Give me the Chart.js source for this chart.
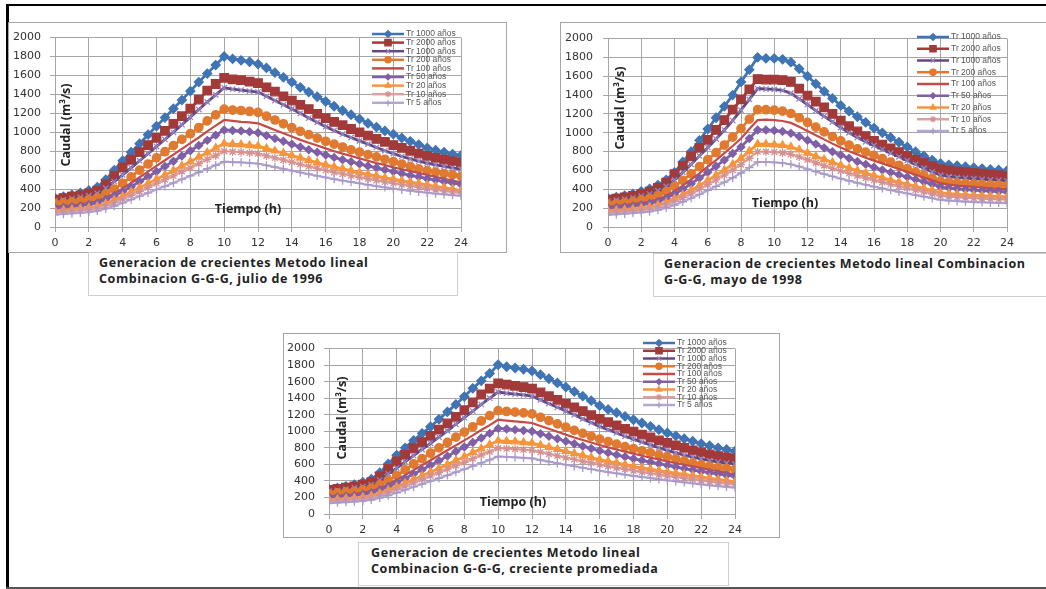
<!DOCTYPE html>
<html>
<head>
<meta charset="utf-8">
<script src="https://cdn.jsdelivr.net/npm/chart.js@4.4.0/dist/chart.umd.min.js"></script>
<style>
  body { margin: 0; width: 1046px; height: 589px; position: relative; overflow: hidden; background: #fff; font-family: "Open Sans", sans-serif; }
  .ln { position: absolute; background: #000; }
  .frame { position: absolute; border: 1px solid #a6a6a6; box-sizing: border-box; }
  canvas { position: absolute; }
  .cap { position: absolute; border: 1.5px solid #cfcfcf; box-sizing: border-box; background: #fff;
         font-weight: 700; font-size: 12.5px; letter-spacing: 0.6px; line-height: 15.5px; color: #222;
         padding: 2px 0 0 10px; white-space: nowrap; overflow: hidden; }
</style>
</head>
<body>
<div class="ln" style="left:6px;top:4px;width:1040px;height:2px"></div>
<div class="ln" style="left:6px;top:4px;width:3px;height:585px"></div>
<div class="ln" style="left:6px;top:587px;width:1040px;height:2px;background:#555"></div>

<div class="frame" style="left:8px;top:22px;width:499px;height:231px"></div>
<div class="frame" style="left:560px;top:22px;width:520px;height:231px"></div>
<div class="frame" style="left:283px;top:333px;width:497px;height:205px"></div>

<canvas id="julio" width="499" height="230" style="left:8px;top:22px"></canvas>
<canvas id="mayo" width="486" height="230" style="left:560px;top:22px"></canvas>
<canvas id="prom" width="497" height="204" style="left:283px;top:333px"></canvas>

<div class="cap" style="left:88px;top:252px;width:370px;height:44px">Generacion de crecientes Metodo lineal<br>Combinacion G-G-G, julio de 1996</div>
<div class="cap" style="left:653px;top:253px;width:420px;height:44px">Generacion de crecientes Metodo lineal Combinacion<br>G-G-G, mayo de 1998</div>
<div class="cap" style="left:358px;top:542px;width:371px;height:44px;padding-left:12px">Generacion de crecientes Metodo lineal<br>Combinacion G-G-G, creciente promediada</div>

<script>
const hours = [0, 0.5, 1, 1.5, 2, 2.5, 3, 3.5, 4, 4.5, 5, 5.5,
  6, 6.5, 7, 7.5, 8, 8.5, 9, 9.5, 10, 10.5, 11, 11.5,
  12, 12.5, 13, 13.5, 14, 14.5, 15, 15.5, 16, 16.5, 17, 17.5,
  18, 18.5, 19, 19.5, 20, 20.5, 21, 21.5, 22, 22.5, 23, 23.5, 24];

const seriesLabels = ["Tr 1000 años", "Tr 2000 años", "Tr 1000 años", "Tr 200 años", "Tr 100 años",
  "Tr 50 años", "Tr 20 años", "Tr 10 años", "Tr 5 años"];

const yTicks = { min: 0, max: 2000, step: 200 };
const xTicks = { min: 0, max: 24, step: 2 };

// julio de 1996
const julioTr1000 = [305, 320, 340, 360, 385, 420, 500, 600, 700, 790, 880, 975,
  1065, 1155, 1250, 1340, 1435, 1530, 1620, 1710, 1800, 1775, 1760, 1745,
  1720, 1680, 1630, 1580, 1530, 1475, 1425, 1375, 1325, 1275, 1230, 1185,
  1140, 1095, 1055, 1015, 980, 940, 905, 870, 835, 810, 790, 770, 755];
const julioTr2000 = [290, 305, 320, 335, 355, 385, 450, 540, 630, 710, 790, 865,
  940, 1015, 1090, 1170, 1250, 1345, 1440, 1510, 1575, 1560, 1550, 1535,
  1520, 1475, 1430, 1380, 1335, 1290, 1245, 1195, 1150, 1110, 1075, 1035,
  1000, 965, 930, 900, 865, 835, 805, 775, 750, 730, 710, 695, 680];
const julioTr1000b = [275, 285, 300, 315, 330, 355, 410, 480, 550, 625, 700, 775,
  850, 925, 1000, 1080, 1160, 1240, 1320, 1395, 1470, 1455, 1445, 1435,
  1425, 1380, 1335, 1290, 1245, 1200, 1150, 1105, 1060, 1020, 980, 945,
  910, 875, 840, 805, 775, 745, 720, 695, 675, 655, 640, 625, 610];
const julioTr200 = [245, 255, 265, 275, 290, 310, 350, 400, 460, 530, 600, 665,
  730, 795, 860, 925, 985, 1050, 1120, 1185, 1245, 1235, 1230, 1220,
  1210, 1170, 1130, 1090, 1050, 1010, 975, 940, 905, 875, 845, 815,
  790, 765, 740, 715, 690, 665, 640, 615, 595, 580, 565, 550, 535];
const julioTr100 = [215, 222, 230, 240, 255, 275, 310, 355, 405, 465, 525, 585,
  645, 705, 765, 825, 885, 945, 1010, 1070, 1130, 1120, 1110, 1105,
  1095, 1060, 1025, 990, 955, 920, 890, 860, 830, 800, 775, 750,
  725, 700, 675, 655, 630, 610, 590, 570, 550, 530, 510, 490, 470];
const julioTr50 = [200, 207, 215, 225, 238, 255, 290, 330, 375, 425, 480, 530,
  585, 640, 695, 750, 805, 860, 915, 970, 1025, 1020, 1015, 1005,
  995, 965, 935, 905, 875, 845, 815, 790, 760, 735, 710, 690,
  665, 645, 625, 605, 585, 565, 545, 530, 510, 495, 480, 465, 450];
const julioTr20 = [170, 177, 185, 193, 203, 218, 248, 285, 325, 370, 415, 460,
  505, 550, 595, 645, 690, 740, 785, 835, 880, 875, 870, 862,
  855, 830, 805, 780, 755, 730, 705, 680, 655, 635, 615, 595,
  575, 555, 540, 520, 505, 490, 475, 460, 445, 430, 415, 400, 385];
const julioTr10 = [155, 162, 170, 177, 185, 198, 225, 258, 295, 335, 375, 418,
  460, 500, 540, 585, 625, 670, 715, 755, 800, 795, 790, 783,
  775, 752, 730, 708, 685, 662, 640, 620, 598, 578, 560, 542,
  525, 508, 492, 476, 460, 447, 433, 420, 406, 393, 381, 370, 360];
const julioTr5 = [130, 137, 143, 150, 158, 170, 193, 222, 255, 290, 325, 360,
  395, 430, 465, 505, 540, 578, 615, 652, 690, 686, 682, 676,
  670, 650, 632, 613, 595, 576, 558, 540, 523, 506, 490, 475,
  460, 446, 432, 418, 405, 394, 383, 372, 362, 352, 344, 337, 330];

// mayo de 1998
const mayoTr1000 = [303, 318, 332, 350, 377, 405, 445, 500, 580, 690, 800, 920,
  1040, 1160, 1280, 1400, 1540, 1670, 1800, 1790, 1790, 1780, 1750, 1680,
  1600, 1520, 1440, 1365, 1290, 1230, 1170, 1110, 1050, 1000, 950, 900,
  850, 800, 755, 710, 675, 660, 650, 640, 630, 620, 610, 605, 598];
const mayoTr2000 = [290, 302, 315, 330, 350, 375, 415, 470, 560, 650, 750, 840,
  925, 1030, 1135, 1245, 1355, 1460, 1570, 1565, 1565, 1560, 1540, 1470,
  1395, 1330, 1270, 1200, 1130, 1070, 1015, 965, 915, 875, 835, 795,
  755, 715, 680, 645, 615, 600, 590, 582, 575, 566, 558, 550, 543];
const mayoTr1000b = [275, 285, 297, 310, 328, 350, 385, 430, 500, 580, 665, 755,
  845, 935, 1030, 1130, 1240, 1355, 1470, 1465, 1460, 1450, 1420, 1360,
  1300, 1235, 1175, 1115, 1055, 1000, 950, 905, 865, 825, 785, 745,
  705, 665, 625, 585, 550, 535, 525, 518, 512, 506, 500, 495, 490];
const mayoTr200 = [240, 250, 260, 272, 287, 305, 335, 375, 430, 495, 565, 640,
  715, 790, 870, 955, 1045, 1145, 1245, 1245, 1240, 1230, 1205, 1160,
  1110, 1060, 1010, 960, 915, 870, 830, 795, 760, 725, 690, 655,
  620, 585, 550, 515, 485, 475, 468, 462, 457, 452, 448, 444, 440];
const mayoTr100 = [215, 223, 232, 242, 255, 270, 295, 330, 380, 440, 505, 570,
  640, 710, 785, 860, 940, 1040, 1135, 1140, 1135, 1125, 1105, 1065,
  1020, 975, 930, 885, 845, 805, 770, 735, 705, 675, 645, 615,
  585, 555, 525, 495, 465, 450, 440, 432, 425, 418, 411, 405, 400];
const mayoTr50 = [200, 207, 215, 224, 235, 250, 272, 305, 350, 400, 460, 520,
  580, 645, 710, 780, 850, 940, 1030, 1030, 1025, 1015, 995, 960,
  920, 880, 840, 800, 765, 730, 695, 665, 635, 605, 580, 555,
  530, 505, 480, 455, 425, 413, 405, 398, 392, 386, 381, 376, 372];
const mayoTr20 = [170, 176, 183, 190, 200, 212, 232, 260, 300, 342, 390, 440,
  495, 550, 605, 665, 730, 805, 880, 880, 875, 868, 850, 820,
  785, 750, 718, 686, 655, 626, 598, 572, 546, 522, 498, 476,
  454, 432, 410, 388, 365, 355, 348, 342, 337, 332, 328, 324, 320];
const mayoTr10 = [155, 161, 167, 174, 182, 193, 211, 237, 272, 311, 355, 400,
  450, 500, 550, 605, 663, 730, 800, 800, 795, 788, 772, 745,
  714, 682, 652, 623, 596, 569, 544, 520, 497, 475, 453, 433,
  413, 393, 373, 353, 332, 323, 316, 310, 305, 300, 296, 293, 290];
const mayoTr5 = [130, 135, 141, 147, 154, 164, 180, 203, 233, 268, 306, 346,
  388, 432, 476, 523, 573, 630, 690, 690, 686, 679, 665, 642,
  615, 588, 562, 537, 514, 491, 469, 449, 429, 410, 391, 373,
  356, 339, 322, 305, 287, 280, 274, 269, 265, 261, 258, 256, 254];

// creciente promediada
const promTr1000 = [300, 315, 335, 355, 385, 420, 500, 605, 710, 800, 890, 975,
  1055, 1145, 1235, 1325, 1420, 1520, 1610, 1700, 1805, 1780, 1765, 1750,
  1730, 1685, 1635, 1585, 1535, 1480, 1425, 1370, 1310, 1265, 1225, 1180,
  1140, 1100, 1060, 1020, 980, 945, 910, 880, 850, 825, 800, 780, 760];
const promTr2000 = [290, 305, 320, 335, 355, 385, 455, 545, 635, 715, 795, 870,
  945, 1020, 1095, 1175, 1255, 1350, 1445, 1515, 1580, 1565, 1550, 1535,
  1515, 1470, 1425, 1380, 1335, 1290, 1245, 1195, 1150, 1110, 1070, 1030,
  995, 960, 925, 890, 860, 830, 800, 770, 745, 720, 700, 685, 670];
const promTr1000b = [275, 285, 300, 315, 330, 355, 410, 485, 555, 630, 705, 780,
  855, 930, 1005, 1085, 1165, 1245, 1325, 1400, 1475, 1460, 1450, 1440,
  1425, 1380, 1335, 1290, 1245, 1200, 1150, 1105, 1060, 1020, 980, 940,
  905, 870, 835, 800, 770, 740, 712, 688, 665, 645, 628, 615, 605];
const promTr200 = [245, 255, 265, 275, 290, 312, 352, 405, 465, 535, 605, 670,
  735, 800, 865, 930, 990, 1055, 1125, 1190, 1250, 1240, 1232, 1222,
  1210, 1170, 1130, 1090, 1050, 1012, 975, 940, 905, 875, 845, 815,
  790, 765, 740, 715, 690, 665, 640, 615, 595, 578, 562, 550, 540];
const promTr100 = [215, 222, 230, 240, 255, 277, 312, 358, 410, 470, 530, 590,
  650, 710, 770, 830, 890, 950, 1015, 1075, 1140, 1130, 1120, 1112,
  1100, 1065, 1030, 995, 960, 925, 895, 865, 835, 805, 780, 755,
  730, 705, 680, 660, 635, 615, 595, 575, 555, 535, 515, 497, 480];
const promTr50 = [200, 207, 215, 225, 238, 257, 292, 333, 378, 430, 485, 535,
  590, 645, 700, 755, 810, 865, 920, 975, 1035, 1028, 1020, 1010,
  1000, 970, 940, 910, 880, 850, 820, 792, 765, 740, 715, 692,
  668, 648, 628, 608, 588, 568, 549, 532, 515, 499, 484, 469, 455];
const promTr20 = [170, 177, 185, 193, 203, 220, 250, 288, 328, 373, 418, 463,
  508, 553, 598, 648, 693, 743, 790, 840, 885, 880, 874, 866,
  858, 833, 808, 783, 758, 733, 708, 683, 658, 637, 617, 597,
  577, 558, 542, 523, 508, 493, 478, 463, 448, 433, 418, 404, 390];
const promTr10 = [155, 162, 170, 177, 185, 199, 226, 260, 297, 337, 377, 420,
  462, 502, 542, 586, 626, 670, 713, 752, 795, 790, 785, 778,
  770, 748, 726, 704, 682, 660, 638, 618, 597, 577, 559, 541,
  524, 507, 491, 475, 459, 446, 432, 419, 405, 392, 380, 367, 355];
const promTr5 = [130, 137, 143, 150, 158, 171, 195, 224, 257, 292, 327, 362,
  397, 432, 467, 506, 542, 580, 617, 655, 695, 690, 685, 679,
  672, 652, 633, 614, 596, 577, 559, 541, 524, 507, 491, 476,
  461, 447, 433, 419, 406, 394, 382, 370, 358, 347, 337, 328, 320];

// look of each series (Excel style)
const lineColors = ["#3f74b5", "#a33a3a", "#634882", "#e07a30", "#c84a48", "#7f5fa6", "#f7953c", "#dca2a2", "#b5a7d0"];
const pointColors = ["#3f74b5", "#a33a3a", "#9585c0", "#e07a30", "#c84a48", "#7f5fa6", "#f7953c", "#d79090", "#a898c8"];
const pointStyles = ["rectRot", "rect", "crossRot", "circle", "circle", "rectRot", "triangle", "star", "cross"];
const pointSizes = [4.5, 6, 3.8, 4.2, 0, 3.8, 4.3, 4.2, 4.2];
const lineWidths = [2.8, 2.8, 2.8, 2.8, 2.2, 2.8, 2.8, 2.2, 2.2];

const overlay = {
  id: "overlay",
  afterDatasetsDraw(chart, args, opts) {
    const ctx = chart.ctx;
    ctx.save();
    chart.data.datasets.forEach((ds, i) => {
      const y = opts.legY + i * opts.legDy;
      ctx.strokeStyle = ds.borderColor;
      ctx.lineWidth = 2.5;
      ctx.beginPath();
      ctx.moveTo(opts.legX, y);
      ctx.lineTo(opts.legX + 32, y);
      ctx.stroke();
      if (ds.pointRadius > 0) {
        ctx.fillStyle = ds.pointBackgroundColor;
        ctx.strokeStyle = ds.pointBorderColor;
        ctx.lineWidth = 1.2;
        Chart.helpers.drawPoint(ctx, { pointStyle: ds.pointStyle, radius: ds.pointRadius * 0.75, borderWidth: 1.2, rotation: 0 }, opts.legX + 16, y);
      }
      ctx.fillStyle = "#555";
      ctx.font = '8.5px "Liberation Sans"';
      ctx.textAlign = "left";
      ctx.textBaseline = "middle";
      ctx.fillText(ds.label, opts.legX + 34, y);
    });
    ctx.fillStyle = "#222";
    ctx.font = 'bold 12.5px "Open Sans"';
    ctx.textAlign = "center";
    ctx.textBaseline = "middle";
    ctx.fillText("Tiempo (h)", opts.tx, opts.ty);
    ctx.translate(opts.cx, opts.cy);
    ctx.rotate(-Math.PI / 2);
    ctx.fillText("Caudal (m³/s)", 0, 0);
    ctx.restore();
  }
};

const makeChart = (id, series, box) => {
  const datasets = series.map((vals, i) => ({
    label: seriesLabels[i],
    data: hours.map((h, j) => ({ x: h, y: vals[j] })),
    borderColor: lineColors[i],
    backgroundColor: pointColors[i],
    pointBackgroundColor: pointColors[i],
    pointBorderColor: pointColors[i],
    pointStyle: pointStyles[i],
    pointRadius: pointSizes[i],
    pointBorderWidth: 1.3,
    borderWidth: lineWidths[i],
    tension: 0,
    order: 20 - i,
  }));

  const tickFont = { family: "DejaVu Sans", size: 11 };
  new Chart(document.getElementById(id), {
    type: "line",
    data: { datasets },
    options: {
      responsive: false,
      animation: false,
      layout: { padding: { left: 0, top: box.top, right: box.right, bottom: 0 } },
      scales: {
        x: {
          type: "linear",
          min: xTicks.min,
          max: xTicks.max,
          ticks: { stepSize: xTicks.step, color: "#333", font: tickFont, padding: 5, maxRotation: 0,
                   callback: (v) => String(v) },
          grid: { color: "#a6a6a6", lineWidth: 1, tickLength: 5 },
          border: { color: "#a6a6a6" },
          afterFit: (s) => { s.height = box.xh; },
        },
        y: {
          min: yTicks.min,
          max: yTicks.max,
          ticks: { stepSize: yTicks.step, color: "#333", font: tickFont, padding: box.ypad,
                   callback: (v) => String(v) },
          grid: { color: "#a6a6a6", lineWidth: 1, tickLength: 5 },
          border: { color: "#a6a6a6" },
          afterFit: (s) => { s.width = box.yw; },
        },
      },
      plugins: {
        legend: { display: false },
        tooltip: { enabled: false },
        overlay: box.overlay,
      },
    },
    plugins: [overlay],
  });
};

makeChart("julio",
  [julioTr1000, julioTr2000, julioTr1000b, julioTr200, julioTr100, julioTr50, julioTr20, julioTr10, julioTr5],
  { top: 7, right: 46, xh: 25, yw: 47, ypad: 9,
    overlay: { legX: 364, legY: 12, legDy: 8.6, tx: 240, ty: 187, cx: 58, cy: 103 } });

makeChart("mayo",
  [mayoTr1000, mayoTr2000, mayoTr1000b, mayoTr200, mayoTr100, mayoTr50, mayoTr20, mayoTr10, mayoTr5],
  { top: 7, right: 39, xh: 25, yw: 48, ypad: 10,
    overlay: { legX: 357, legY: 15, legDy: 11.75, tx: 225, ty: 181, cx: 60, cy: 86 } });

makeChart("prom",
  [promTr1000, promTr2000, promTr1000b, promTr200, promTr100, promTr50, promTr20, promTr10, promTr5],
  { top: 6, right: 45, xh: 23, yw: 46, ypad: 9,
    overlay: { legX: 360, legY: 10, legDy: 7.75, tx: 230, ty: 169, cx: 59, cy: 85 } });
</script>
</body>
</html>
